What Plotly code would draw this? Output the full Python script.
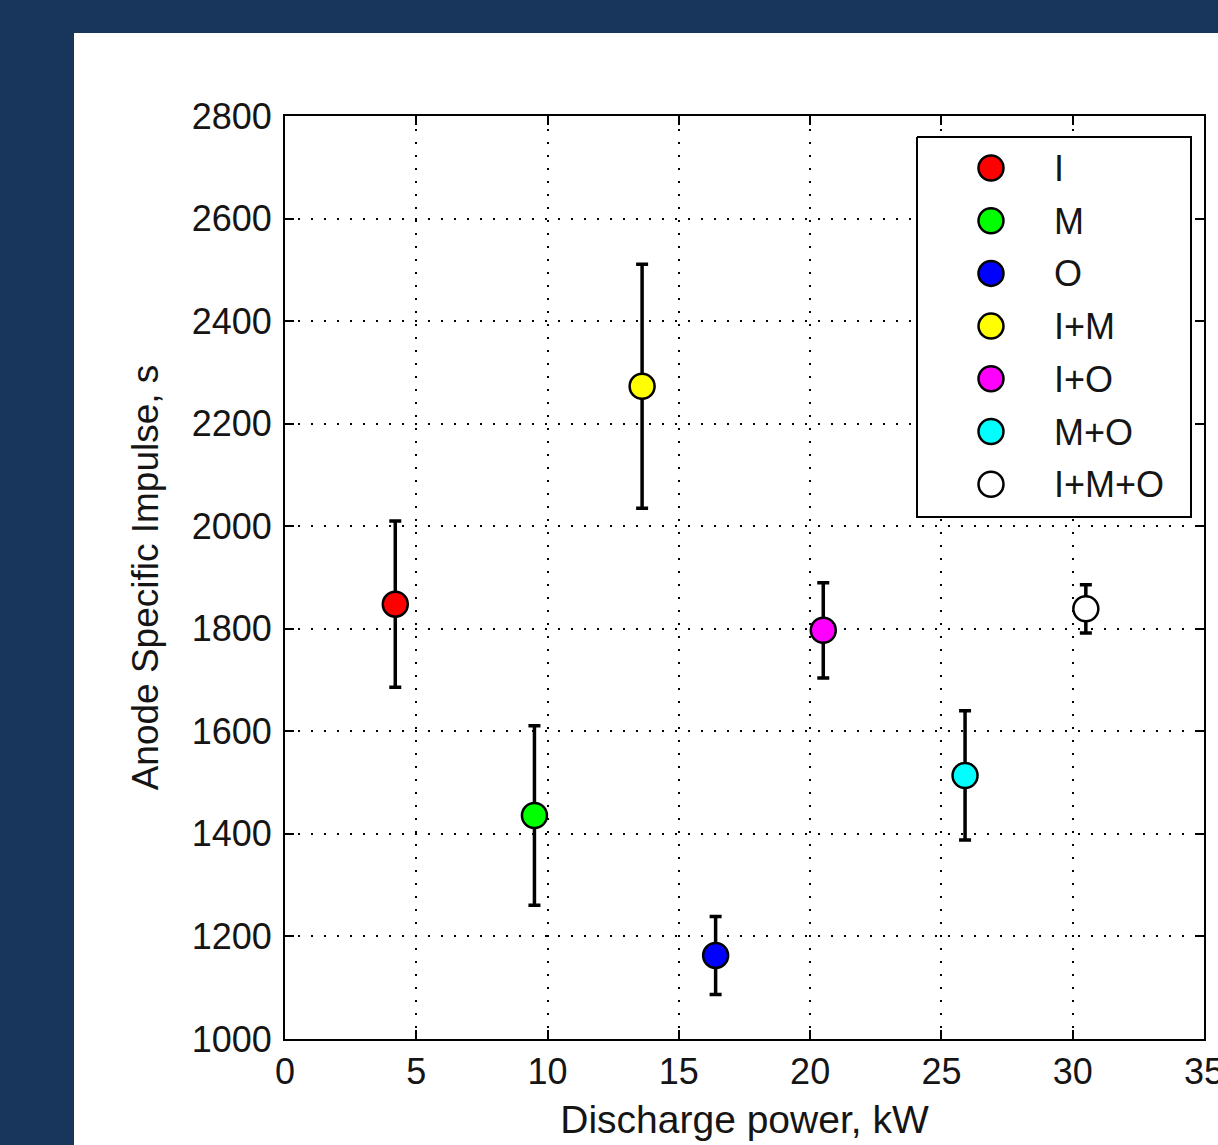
import plotly.graph_objects as go

# Data
labels = ["I", "M", "O", "I+M", "I+O", "M+O", "I+M+O"]
power_kw = [4.2, 9.5, 16.4, 13.6, 20.5, 25.9, 30.5]
isp_s = [1848, 1436, 1163, 2273, 1797, 1514, 1839]
isp_err = [162, 175, 76, 238, 93, 126, 47]
colors = ["#ff0000", "#00ff00", "#0000ff", "#ffff00", "#ff00ff", "#00ffff", "#ffffff"]

x_ticks = [0, 5, 10, 15, 20, 25, 30, 35]
y_ticks = [1000, 1200, 1400, 1600, 1800, 2000, 2200, 2400, 2600, 2800]

W, H = 1218, 1145
L, R, T, B = 285, 14, 116, 106
pw, ph = W - L - R, H - T - B

FONT = "Liberation Sans"
TXT = "#151515"


def px_x(p):
    return (p - L) / pw


def px_y(p):
    return (H - B - p) / ph


fig = go.Figure()
for lab, x, y, e, c in zip(labels, power_kw, isp_s, isp_err, colors):
    fig.add_trace(go.Scatter(
        x=[x], y=[y], name=lab, mode="markers", showlegend=False,
        marker=dict(symbol="circle", size=25, color=c, line=dict(color="black", width=2.5)),
        error_y=dict(type="data", array=[e], color="black", thickness=3.5, width=6),
    ))

# Legend box (drawn on its own pixel-scaled axes, overlaid on the plot)
LX0, LX1, LY0, LY1 = 916, 1192, 136, 518
bw, bh = LX1 - LX0, LY1 - LY0
fig.add_trace(go.Scatter(
    x=[1, bw - 1, bw - 1, 1, 1], y=[1, 1, bh - 1, bh - 1, 1], mode="lines",
    fill="toself", fillcolor="white", line=dict(color="black", width=2),
    xaxis="x2", yaxis="y2", showlegend=False, hoverinfo="skip",
))
item_y = [32 + i * 52.7 for i in range(len(labels))]
fig.add_trace(go.Scatter(
    x=[75] * len(labels), y=item_y, mode="markers", xaxis="x2", yaxis="y2",
    showlegend=False, hoverinfo="skip",
    marker=dict(symbol="circle", size=25, color=colors, line=dict(color="black", width=2.5)),
))
fig.add_trace(go.Scatter(
    x=[138] * len(labels), y=[v + 4 for v in item_y], mode="text", xaxis="x2", yaxis="y2",
    text=labels, textposition="middle right", showlegend=False, hoverinfo="skip",
    textfont=dict(family=FONT, size=36, color=TXT),
))

fig.add_shape(type="rect", xref="paper", yref="paper",
              x0=px_x(74), x1=px_x(1230), y0=px_y(1160), y1=px_y(33),
              fillcolor="white", line=dict(width=0), layer="below")

axis_common = dict(
    showgrid=True, gridcolor="black", gridwidth=1.5, griddash="2px,11px",
    showline=True, linecolor="black", linewidth=2, mirror="allticks",
    ticks="inside", ticklen=9, tickwidth=2, tickcolor="black",
    zeroline=False,
    tickfont=dict(family=FONT, size=36, color=TXT),
)

fig.update_xaxes(range=[0, 35], tickvals=x_ticks, ticklabeloverflow="allow",
                 title=dict(text="Discharge power, kW", font=dict(family=FONT, size=39, color=TXT), standoff=14),
                 **axis_common)
fig.update_yaxes(range=[1000, 2800], tickvals=y_ticks, ticklabelstandoff=4,
                 title=dict(text="Anode Specific Impulse, s", font=dict(family=FONT, size=37, color=TXT), standoff=22),
                 **axis_common)

fig.update_layout(
    width=W, height=H,
    margin=dict(l=L, r=R, t=T, b=B, autoexpand=False),
    paper_bgcolor="#18365c", plot_bgcolor="white",
    showlegend=False,
    xaxis2=dict(domain=[px_x(LX0), px_x(LX1)], range=[0, bw], anchor="y2",
                visible=False, fixedrange=True, showgrid=False, zeroline=False),
    yaxis2=dict(domain=[px_y(LY1), px_y(LY0)], range=[bh, 0], anchor="x2",
                visible=False, fixedrange=True, showgrid=False, zeroline=False),
)

fig.write_html("out.html", config={"displayModeBar": False},
               post_script="document.body.style.margin='0';")
